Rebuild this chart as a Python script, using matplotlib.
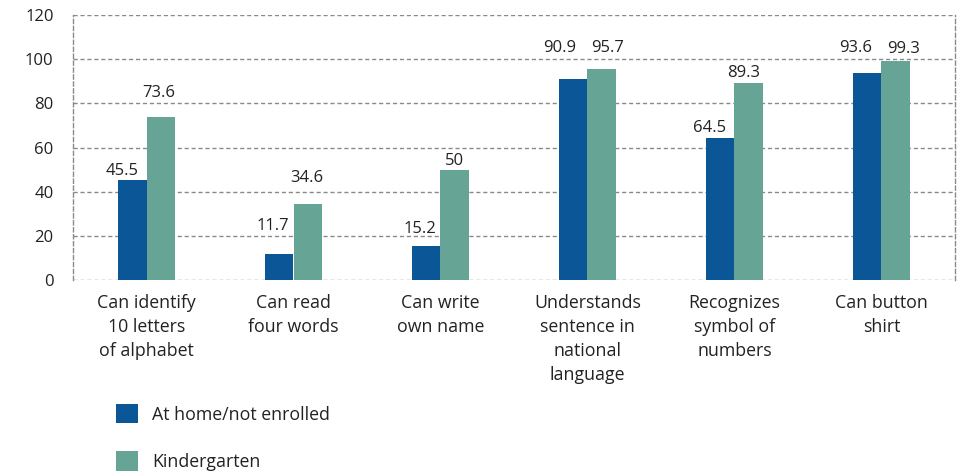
import matplotlib
matplotlib.use("Agg")
import matplotlib.pyplot as plt
import numpy as np

categories = ["Can identify\n10 letters\nof alphabet", "Can read\nfour words", "Can write\nown name",
              "Understands\nsentence in\nnational\nlanguage", "Recognizes\nsymbol of\nnumbers", "Can button\nshirt"]
home_values = [45.5, 11.7, 15.2, 90.9, 64.5, 93.6]
kinder_values = [73.6, 34.6, 50, 95.7, 89.3, 99.3]
home_labels = ["45.5", "11.7", "15.2", "90.9", "64.5", "93.6"]
kinder_labels = ["73.6", "34.6", "50", "95.7", "89.3", "99.3"]
series_names = ["At home/not enrolled", "Kindergarten"]
yticks = [0, 20, 40, 60, 80, 100, 120]

# label placement offsets (pixels) relative to bar top centre
home_off = [(-10, 8.5), (-6, 28), (-6, 17.5), (-13, 31), (-10, 9.5), (-11, 25)]
kinder_off = [(-2, 24.5), (-1, 25.5), (0, 8.5), (6, 20.5), (-5, 10), (8, 11.5)]

BLUE = "#0b5697"
GREEN = "#66a595"
TEXT = "#222222"
FONT = "Open Sans"
FS = 12
FS_CAT = 12.8

plt.rcParams['font.family'] = [FONT, 'DejaVu Sans']

fig = plt.figure(figsize=(9.64, 4.72), dpi=100)
ax = fig.add_axes([73/964, 1-280/472, (955-73)/964, 265/472])

x = np.arange(len(categories))
w = 0.197
b1 = ax.bar(x - w/2, home_values, w, color=BLUE, label=series_names[0], zorder=3)
b2 = ax.bar(x + w/2, kinder_values, w, color=GREEN, label=series_names[1], zorder=3)

for i in range(len(x)):
    ax.annotate(home_labels[i], (x[i] - w/2, home_values[i]), xytext=home_off[i],
                textcoords='offset pixels', ha='center', va='center', fontsize=FS, color=TEXT)
    ax.annotate(kinder_labels[i], (x[i] + w/2, kinder_values[i]), xytext=kinder_off[i],
                textcoords='offset pixels', ha='center', va='center', fontsize=FS, color=TEXT)

ax.set_xlim(-0.5, len(categories) - 0.5)
ax.set_ylim(0, 120)
ax.set_yticks(yticks)
ax.set_yticklabels([str(t) for t in yticks], fontsize=FS, color=TEXT)
ax.set_xticks(x)
ax.set_xticklabels(categories, fontsize=FS_CAT, color=TEXT, linespacing=1.42, va='top')
ax.tick_params(axis='both', length=0)
ax.tick_params(axis='y', pad=14)
ax.tick_params(axis='x', pad=10)

dash = (0, (3, 2))
ax.yaxis.grid(True, color="#8a8a8a", linestyle=dash, linewidth=1, zorder=0)
ax.set_axisbelow(True)
for s in ['top', 'bottom']:
    ax.spines[s].set_visible(False)
for s in ['left', 'right']:
    ax.spines[s].set_linestyle(dash)
    ax.spines[s].set_color("#8a8a8a")
    ax.spines[s].set_linewidth(1)

fs_px = FS_CAT * 100 / 72
fig.legend(handles=[b1, b2], labels=series_names, loc='upper left',
           bbox_to_anchor=(116/964, 1-404/472), frameon=False, fontsize=FS_CAT,
           handlelength=22/fs_px, handleheight=23/fs_px, handletextpad=14/fs_px,
           labelspacing=1.56, borderpad=0, borderaxespad=0, labelcolor=TEXT)

fig.savefig("out.png", dpi=100)
